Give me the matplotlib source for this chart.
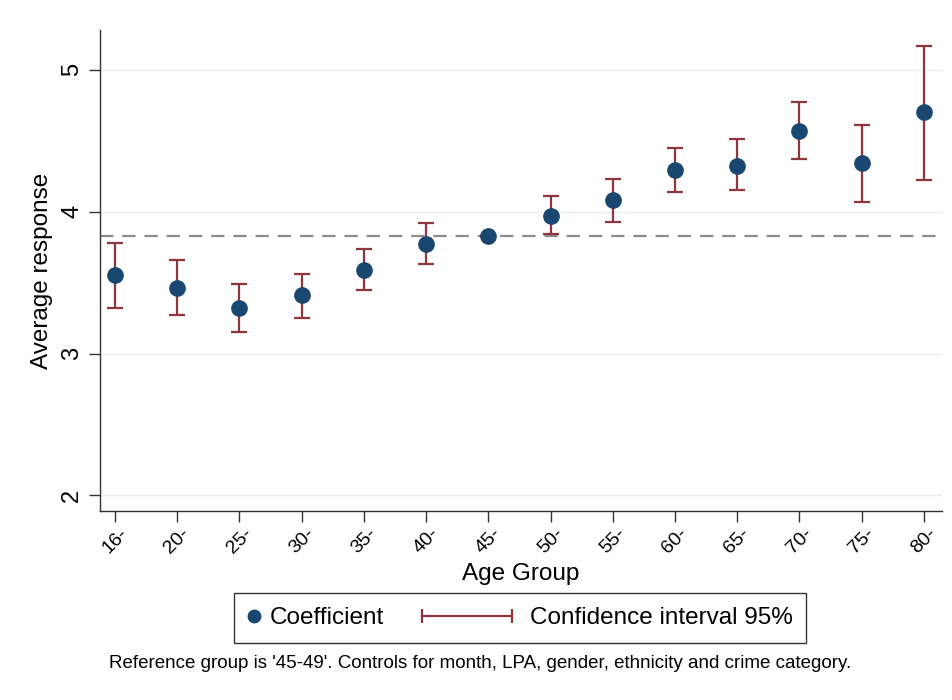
import matplotlib
matplotlib.use('Agg')
import matplotlib.pyplot as plt
from matplotlib.lines import Line2D
from matplotlib.legend_handler import HandlerLine2D

# estimates
age_groups = ['16-', '20-', '25-', '30-', '35-', '40-', '45-',
              '50-', '55-', '60-', '65-', '70-', '75-', '80-']
coef  = [3.55, 3.46, 3.32, 3.41, 3.59, 3.77, 3.83,
         3.97, 4.08, 4.29, 4.32, 4.57, 4.34, 4.70]
ci_lo = [3.32, 3.27, 3.15, 3.25, 3.45, 3.63, 3.83,
         3.84, 3.93, 4.14, 4.15, 4.37, 4.07, 4.22]
ci_hi = [3.78, 3.66, 3.49, 3.56, 3.74, 3.92, 3.83,
         4.11, 4.23, 4.45, 4.51, 4.77, 4.61, 5.17]
ref_level = 3.83
y_ticks = [2, 3, 4, 5]

NAVY = '#1a476f'
MAROON = '#90353b'


class HandlerCI(HandlerLine2D):
    """CI legend key: a capped line reaching left past the (short) handle box."""
    def __init__(self, ext, trim, **kw):
        super().__init__(numpoints=2, **kw)
        self.ext, self.trim = ext, trim

    def get_xdata(self, legend, xdescent, ydescent, width, height, fontsize):
        x0 = -xdescent - self.ext * fontsize
        x1 = -xdescent + width - self.trim * fontsize
        return [x0, x1], [x0, x1]


plt.rcParams['font.family'] = ['Liberation Sans', 'DejaVu Sans']

fig = plt.figure(figsize=(9.53, 7.0), dpi=100)
ax = fig.add_axes([100/953, 1 - 511/700, 842/953, 481/700])

xs = list(range(len(age_groups)))
for y in y_ticks:
    ax.axhline(y, color='#e6eef3', lw=1.0, zorder=0)
ax.axhline(ref_level, color='#8c8c8c', lw=1.6, ls=(0, (6, 4)), zorder=1)

lower = [c - lo for c, lo in zip(coef, ci_lo)]
upper = [hi - c for c, hi in zip(coef, ci_hi)]
ax.errorbar(xs, coef, yerr=[lower, upper], fmt='none', ecolor=MAROON,
            elinewidth=1.6, capsize=6, capthick=1.6, zorder=2)
ax.plot(xs, coef, 'o', color=NAVY, ms=11, zorder=3)

ax.set_xlim(-0.24, 13.29)
ax.set_ylim(1.89, 5.28)
ax.set_xticks(xs)
ax.set_xticklabels(age_groups, rotation=45, fontsize=14)
ax.set_yticks(y_ticks)
ax.set_yticklabels([str(y) for y in y_ticks], rotation=90, va='center', fontsize=17)
ax.tick_params(axis='both', direction='out', length=8, width=1, colors='#333333')
ax.tick_params(axis='x', labelcolor='black', pad=2)
ax.tick_params(axis='y', labelcolor='black', pad=4)
for s in ['top', 'right']:
    ax.spines[s].set_visible(False)
for s in ['left', 'bottom']:
    ax.spines[s].set_color('#333333')
    ax.spines[s].set_linewidth(1)

ax.set_ylabel('Average response', fontsize=17.5, labelpad=6)
ax.set_xlabel('Age Group', fontsize=17.5, labelpad=4)

h_coef = Line2D([], [], ls='none', marker='o', color=NAVY, ms=9)
h_ci = Line2D([], [], color=MAROON, lw=1.6, marker='|', ms=10, mew=1.6)
leg = fig.legend([h_coef, h_ci], ['Coefficient', 'Confidence interval 95%'],
                 loc='center', bbox_to_anchor=(520/953, 1 - 618/700), ncol=2,
                 fontsize=17.5, frameon=True, fancybox=False, edgecolor='black',
                 handlelength=0.5, handletextpad=0.42, columnspacing=5.06,
                 borderpad=0.57,
                 handler_map={h_ci: HandlerCI(ext=3.5, trim=0.32)})
leg.get_frame().set_linewidth(1.0)

fig.text(480/953, 1 - 663/700,
         "Reference group is '45-49'. Controls for month, LPA, gender, ethnicity and crime category.",
         ha='center', va='center', fontsize=13.5)

fig.savefig('out.png', dpi=100, facecolor='white')
